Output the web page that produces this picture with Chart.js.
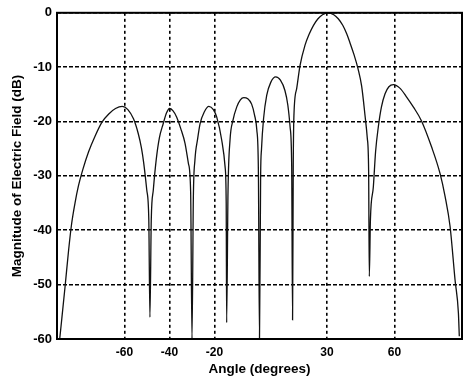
<!DOCTYPE html>
<html>
<head>
<meta charset="utf-8">
<script src="https://cdn.jsdelivr.net/npm/chart.js@4.4.0/dist/chart.umd.min.js"></script>
<style>
  html, body { margin: 0; padding: 0; background: #fff; }
  #wrap { width: 467px; height: 382px; }
</style>
</head>
<body>
<div id="wrap"><canvas id="patternCanvas"></canvas></div>
<script>
// Angle (degrees), one row per lobe
const angles = [
  -88.8, -88.2, -86.4, -84.8, -83.5, -82, -80.5, -78.5, -76, -73, -70, -67, -64, -61, -58.5, -56, -53.9, -52.5, -51.5, -50.1, -49.2,
  -48.7, -48.1, -47.2, -45.9, -44.5, -42.8, -41.3, -40, -38.5, -36.8, -35, -33.1, -31.6, -30.6,
  -30.0, -29.4, -28.7, -27.5, -26.4, -24.5, -22.5, -20.5, -19, -16.8, -15.3, -14.8,
  -14.6, -14.0, -13.1, -11.8, -10.1, -8.5, -7, -5.2, -3.5, -2.2, -1.2, -0.5,
  0, 0.5, 0.9, 1.8, 3.2, 5, 7.2, 9.3, 11.3, 12.6, 13.6, 14.3,
  14.7, 15.0, 15.3, 16.5, 18, 20.2, 22, 24, 26, 28, 30.5, 33, 35, 37, 38.8, 40.2, 42, 43.8, 45.4, 46.9, 47.9, 48.5,
  48.8, 49.3, 50.6, 51.6, 52.8, 54.2, 55.8, 57.5, 59.5, 62.5, 65.4, 68.5, 71.9, 76.5, 80.2, 82.5, 84.7, 86.9, 88.4, 88.8
];
// Magnitude of electric field (dB)
const magnitudes = [
  -60, -57.6, -50.3, -43.5, -38.8, -35, -31.9, -28.8, -25.6, -22.6, -20.1, -18.6, -17.6, -17.2, -17.8, -19.5, -22.2, -24.8, -27.5, -32.6, -38,
  -56, -38, -32.6, -27, -23, -20.4, -18.4, -17.6, -18, -19.2, -21.3, -24, -27.7, -33,
  -60, -34, -27.1, -23.2, -20.4, -18.2, -17.2, -17.8, -19.2, -23.4, -28.3, -35,
  -57, -33, -23.4, -19.8, -17.3, -16, -15.6, -15.8, -16.8, -18.8, -21.5, -28.9,
  -60, -30, -25, -19.5, -15.2, -12.8, -11.8, -12.4, -14.3, -17, -21, -28,
  -56.5, -28, -18.9, -14, -9.7, -6, -4, -2.3, -1.1, -0.35, 0, -0.35, -1.1, -2.3, -3.9, -5.5, -7.7, -10.3, -13.5, -18.9, -23, -29,
  -48.5, -38, -32, -25.5, -21, -17.3, -14.9, -13.6, -13.2, -13.9, -15.5, -17.4, -19.8, -24.7, -29.5, -33.8, -39.3, -49.1, -55.2, -59.5
];
const xTicks = [-60, -40, -20, 30, 60];
const yTicks = [0, -10, -20, -30, -40, -50, -60];

const points = angles.map((a, i) => ({ x: a, y: magnitudes[i] }));
const tickFont = { family: 'Liberation Sans, Arial, sans-serif', size: 12, weight: 'bold' };

// draws the solid frame round the plot area
const frame = {
  id: 'frame',
  afterDraw(chart) {
    const { ctx, chartArea: a } = chart;
    ctx.save();
    ctx.strokeStyle = '#000';
    ctx.lineWidth = 2;
    ctx.strokeRect(a.left, a.top, a.right - a.left, a.bottom - a.top);
    ctx.restore();
  }
};

new Chart(document.getElementById('patternCanvas'), {
  type: 'line',
  data: {
    datasets: [{
      data: points,
      borderColor: '#111',
      borderWidth: 1.3,
      pointRadius: 0,
      cubicInterpolationMode: 'monotone',
      fill: false
    }]
  },
  options: {
    responsive: true,
    maintainAspectRatio: false,
    animation: false,
    layout: { padding: { top: 11, right: 5, left: 0, bottom: 0 } },
    plugins: { legend: { display: false }, tooltip: { enabled: false } },
    scales: {
      x: {
        type: 'linear',
        min: -90,
        max: 90,
        afterBuildTicks: s => { s.ticks = xTicks.map(v => ({ value: v })); },
        afterFit: s => { s.height = 43; },
        grid: { color: '#000', lineWidth: 1.6, drawTicks: false },
        border: { display: false, dash: [3, 3] },
        ticks: { color: '#000', font: tickFont, padding: 6, maxRotation: 0 },
        title: { display: true, text: 'Angle (degrees)', color: '#000', font: { ...tickFont, size: 13.5 }, padding: { top: 0, bottom: 5 } }
      },
      y: {
        min: -60,
        max: 0,
        afterBuildTicks: s => { s.ticks = yTicks.map(v => ({ value: v })); },
        afterFit: s => { s.width = 57; },
        grid: { color: '#000', lineWidth: 1.6, drawTicks: false },
        border: { display: false, dash: [4, 2] },
        ticks: { color: '#000', font: { ...tickFont, size: 13 }, padding: 5 },
        title: { display: true, text: 'Magnitude of Electric Field (dB)', color: '#000', font: { ...tickFont, size: 13.5 }, padding: { top: 9, bottom: 0 } }
      }
    }
  },
  plugins: [frame]
});
</script>
</body>
</html>
